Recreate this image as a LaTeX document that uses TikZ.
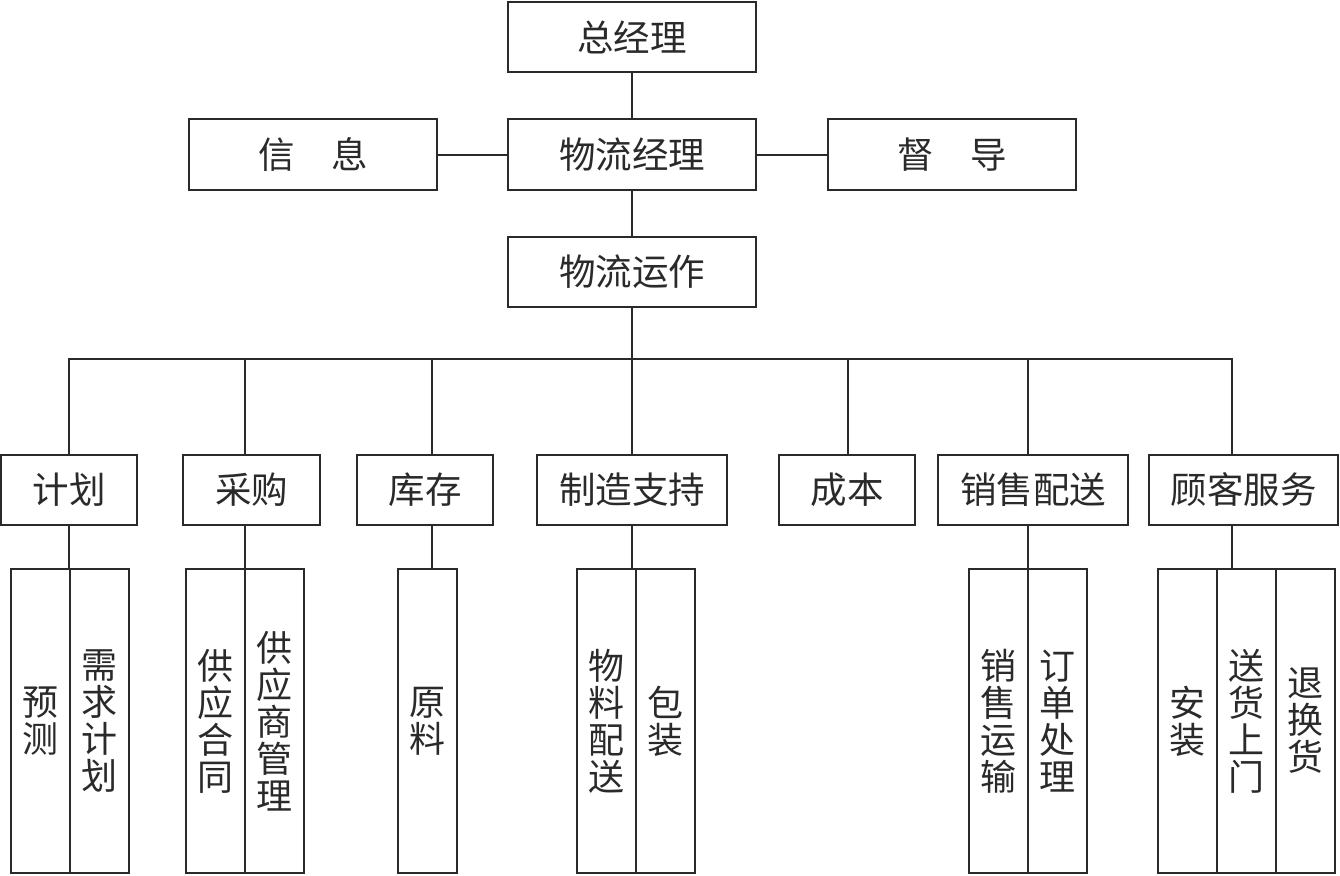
\documentclass[tikz,border=0pt]{standalone}
\usepackage{fontspec}
\setmainfont{Noto Sans CJK SC}
\usetikzlibrary{calc}
\definecolor{ink}{HTML}{2A2A2A}
\begin{document}
\begin{tikzpicture}[x=1pt,y=-1pt,
  every node/.style={inner sep=0pt, outer sep=0pt},
  bx/.style={draw=ink, line width=2pt, text=ink, font=\fontsize{36.5}{38}\selectfont, minimum height=70pt, minimum width=#1},
  bx/.default=136pt,
  sb/.style={draw=ink, line width=2pt, text=ink, font=\fontsize{36}{37}\selectfont, minimum height=304pt, minimum width=59pt, align=center},
  ln/.style={draw=ink, line width=2pt, line cap=rect}]
\useasboundingbox (0,0) rectangle (1340,875);
% top levels
\node[bx=248pt] (gm) at (632,37) {总经理};
\node[bx=248pt, minimum height=71pt] (lm) at (632,154.5) {物流经理};
\node[bx=248pt, minimum height=71pt] (info) at (313,154.5) {信\hspace{1em}息};
\node[bx=248pt, minimum height=71pt] (sup) at (952,154.5) {督\hspace{1em}导};
\node[bx=248pt] (ops) at (632,272) {物流运作};
% second level
\node[bx=136pt] (plan) at (69,490) {计划};
\node[bx=137pt] (buy) at (251.5,490) {采购};
\node[bx=136pt] (inv) at (425,490) {库存};
\node[bx=190pt] (mfg) at (632,490) {制造支持};
\node[bx=136pt] (cost) at (847,490) {成本};
\node[bx=190pt] (sales) at (1033,490) {销售配送};
\node[bx=189pt] (cs) at (1243.5,490) {顾客服务};
% third level
\node[sb] (p1) at (40,721) {预\\测};
\node[sb] (p2) at (99,721) {需\\求\\计\\划};
\node[sb] (b1) at (215,721) {供\\应\\合\\同};
\node[sb] (b2) at (274,721) {供\\应\\商\\管\\理};
\node[sb] (raw) at (427.5,721) {原\\料};
\node[sb] (m1) at (606.5,721) {物\\料\\配\\送};
\node[sb] (m2) at (665,721) {包\\装};
\node[sb] (s1) at (998.5,721) {销\\售\\运\\输};
\node[sb] (s2) at (1057.5,721) {订\\单\\处\\理};
\node[sb] (c1) at (1187.5,721) {安\\装};
\node[sb] (c2) at (1246.5,721) {送\\货\\上\\门};
\node[sb] (c3) at (1305.5,721) {退\\换\\货};
% bus coordinates
\coordinate (j1) at (69,359);
\coordinate (j2) at (245,359);
\coordinate (j3) at (432,359);
\coordinate (j4) at (632,359);
\coordinate (j5) at (848,359);
\coordinate (j6) at (1028,359);
\coordinate (j7) at (1232,359);
% connectors
\draw[ln] (gm) -- (lm);
\draw[ln] (info) -- (lm);
\draw[ln] (lm) -- (sup);
\draw[ln] (lm) -- (ops);
\draw[ln] (ops) -- (j4);
\draw[ln] (j1) -- (j7);
\draw[ln] (j1) -- (j1 |- plan.north);
\draw[ln] (j2) -- (j2 |- buy.north);
\draw[ln] (j3) -- (j3 |- inv.north);
\draw[ln] (j4) -- (mfg.north);
\draw[ln] (j5) -- (j5 |- cost.north);
\draw[ln] (j6) -- (j6 |- sales.north);
\draw[ln] (j7) -- (j7 |- cs.north);
\draw[ln] (j1 |- plan.south) -- (j1 |- p1.north);
\draw[ln] (j2 |- buy.south) -- (j2 |- b1.north);
\draw[ln] (j3 |- inv.south) -- (j3 |- raw.north);
\draw[ln] (mfg.south) -- (mfg.south |- m1.north);
\draw[ln] (j6 |- sales.south) -- (j6 |- s1.north);
\draw[ln] (j7 |- cs.south) -- (j7 |- c2.north);
\end{tikzpicture}
\end{document}
